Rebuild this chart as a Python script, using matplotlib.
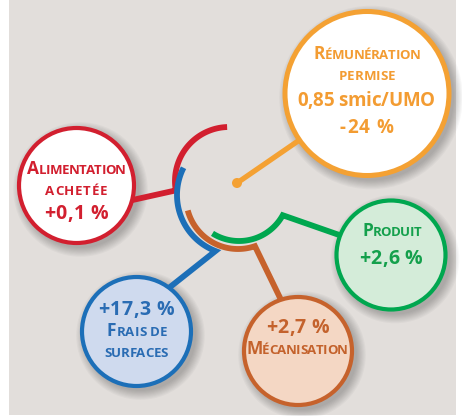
import numpy as np
import matplotlib
matplotlib.use("Agg")
import matplotlib.pyplot as plt
from matplotlib.patches import Circle, Rectangle

# ---------------- data ----------------
categories = ["Rémunération permise", "Alimentation achetée", "Produit",
              "Frais de surfaces", "Mécanisation"]
changes = [-24, 0.1, 2.6, 17.3, 2.7]          # % variation
remuneration_level = "0,85 smic/UMO"

def fmt(v):
    return "{:+g}".format(v).replace(".", ",") + " %"

# ---------------- style / layout ----------------
W, H = 462, 416
FONT = ["Open Sans", "DejaVu Sans"]
BIG, SMALL, VAL, VAL_O = 12.5, 9.5, 14, 13.5
BG = "#e2dedb"

colors = {
    "orange": dict(edge="#f4a133", fill="#ffffff", text="#f39c32"),
    "red":    dict(edge="#d21f2f", fill="#ffffff", text="#d21f2f"),
    "green":  dict(edge="#00a74f", fill="#d4ecd9", text="#14a04c"),
    "blue":   dict(edge="#1c6fb8", fill="#cfdaee", text="#2a6cb3"),
    "brown":  dict(edge="#c6622c", fill="#f4d7c4", text="#c4622c"),
}
keys = ["orange", "red", "green", "blue", "brown"]

# bubble centre, radius (pixels)
bubbles = {
    "orange": ((367, 93.5), 82),
    "red":    ((76.5, 185.5), 57.5),
    "green":  ((391, 255), 54.5),
    "blue":   ((136.5, 331.5), 54.5),
    "brown":  ((298, 351), 54),
}
# arc centre, radius, start/end angle (deg, screen), connector end
arcs = {
    "red":   ((229, 181), 54, 268, 170, (128, 201)),
    "blue":  ((237, 195), 60, 207, 111, (160, 295)),
    "brown": ((238, 197), 52, 165, 71, (284, 306)),
    "green": ((239, 191), 50, 122, 29, (345, 237)),
}
dot = (237, 183)

# text lines: (text, kind, x-centre, baseline, width)
lines = {
    "orange": [(categories[0].split()[0], "sc", 367, 59.3, 107),
               (categories[0].split()[1], "sc", 367, 80, 57),
               (remuneration_level, "val", 366, 105.7, 138),
               (fmt(changes[0]), "val", 366.5, 132.7, 53)],
    "red":    [(categories[1].split()[0], "sc", 76.5, 174, 99),
               (categories[1].split()[1], "sc", 76, 194.7, 62),
               (fmt(changes[1]), "val", 76, 219.3, 64)],
    "green":  [(categories[2], "sc", 391.5, 235.7, 59),
               (fmt(changes[2]), "val", 390.5, 264, 63)],
    "blue":   [(fmt(changes[3]), "val", 136, 315.3, 76),
               ("Frais de", "sc", 137, 336, 60),
               ("surfaces", "sc", 136, 357.3, 64)],
    "brown":  [(fmt(changes[4]), "val", 297.5, 333.3, 63),
               (categories[4], "sc", 297, 354.3, 102)],
}

# ---------------- figure ----------------
fig = plt.figure(figsize=(W / 100, H / 100), dpi=100)
fig.patch.set_facecolor("white")
ax = fig.add_axes([0, 0, 1, 1])
ax.set_xlim(0, W)
ax.set_ylim(H, 0)
ax.axis("off")
renderer = fig.canvas.get_renderer()

ax.add_patch(Rectangle((9, 0), 447, 415, fc=BG, ec="none", zorder=0))

# shadows
for k in keys:
    (cx, cy), r = bubbles[k]
    for i in range(9):
        ax.add_patch(Circle((cx + 4, cy + 4), r + 1 + i * 1.1, fc="black",
                            ec="none", alpha=0.028, zorder=1))

# arcs with connectors
LW = 4.2
for k in ["red", "blue", "brown", "green"]:
    (cx, cy), r, a0, a1, end = arcs[k]
    th = np.radians(np.linspace(a0, a1, 120))
    xs = list(cx + r * np.cos(th)) + [end[0]]
    ys = list(cy + r * np.sin(th)) + [end[1]]
    ax.plot(xs, ys, color=colors[k]["edge"], lw=LW, solid_capstyle="butt",
            solid_joinstyle="miter", zorder=2)

# orange connector and dot
oc, orr = bubbles["orange"]
d = np.array(oc) - np.array(dot)
d = d / np.hypot(*d)
pend = np.array(oc) - (orr - 6) * d
ax.plot([dot[0], pend[0]], [dot[1], pend[1]], color=colors["orange"]["edge"],
        lw=LW - 0.4, solid_capstyle="butt", zorder=2)
ax.add_patch(Circle(dot, 5, fc=colors["orange"]["edge"], ec="none", zorder=2))

# bubbles
for k in keys:
    (cx, cy), r = bubbles[k]
    ax.add_patch(Circle((cx, cy), r, fc=colors[k]["fill"], ec=colors[k]["edge"],
                        lw=3.6 if k == "orange" else 3.0, zorder=3))

# text
def char_list(s, kind, k):
    out = []
    for ch in s:
        if kind == "val":
            out.append((ch, VAL if k != "orange" else VAL_O))
        elif ch == " ":
            out.append((ch, SMALL))
        elif ch.isupper():
            out.append((ch, BIG))
        else:
            out.append((ch.upper(), SMALL))
    return out

def draw_line(xc, base, chars, color, target):
    widths = []
    for ch, sz in chars:
        if ch == " ":
            widths.append(0.24 * sz * 100 / 72)
        else:
            t = ax.text(0, 0, ch, fontsize=sz, fontweight="bold", family=FONT)
            widths.append(t.get_window_extent(renderer).width)
            t.remove()
    n = max(len(chars) - 1, 1)
    track = (target - sum(widths)) / n
    x = xc - target / 2
    for w, (ch, sz) in zip(widths, chars):
        if ch != " ":
            ax.text(x, base, ch, fontsize=sz, fontweight="bold", family=FONT,
                    color=color, ha="left", va="baseline", zorder=4)
        x += w + track

for k in keys:
    for s, kind, xc, base, tw in lines[k]:
        draw_line(xc, base, char_list(s, kind, k), colors[k]["text"], tw)

fig.savefig("out.png", dpi=100, facecolor="white")
